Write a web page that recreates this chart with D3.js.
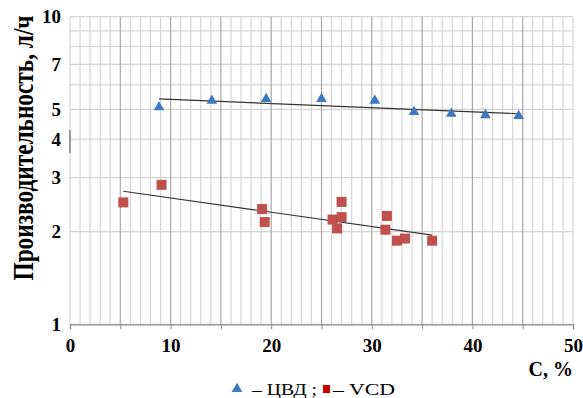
<!DOCTYPE html>
<html>
<head>
<meta charset="utf-8">
<script src="https://cdn.jsdelivr.net/npm/d3@7"></script>
<style>
  body { margin: 0; background: #fff; }
  text { font-family: "Liberation Serif", "Times New Roman", serif; }
</style>
</head>
<body>
<div class="chart"></div>
<script>
// ЦВД (triangles)
var cvdX = [8.85, 14.1, 19.5, 25.0, 30.3, 34.2, 37.9, 41.3, 44.6];
var cvdY = [5.08, 5.33, 5.40, 5.40, 5.33, 4.90, 4.84, 4.79, 4.76];
// VCD (squares)
var vcdX = [5.3, 9.1, 19.1, 19.35, 26.1, 26.55, 27.0, 27.0, 31.5, 31.35, 32.5, 33.3, 36.0];
var vcdY = [2.49, 2.84, 2.37, 2.15, 2.19, 2.05, 2.50, 2.23, 2.25, 2.03, 1.87, 1.90, 1.87];

var xTicks = [0, 10, 20, 30, 40, 50];
var yTicks = [1, 2, 3, 4, 5, 7, 10];

function init() {
  var w = 583;
  var h = 398;
  var left = 70, right = 573, top = 16.7, bottom = 324.3;

  var svg = d3.select(".chart").append("svg")
    .attr("width", w)
    .attr("height", h);

  var x = d3.scaleLinear().domain([0, 50]).range([left, right]);
  var y = d3.scaleLog().domain([1, 10]).range([bottom, top]);

  // horizontal grid, every integer
  svg.append("g").selectAll("line")
    .data(d3.range(1, 11))
    .enter().append("line")
    .attr("x1", left).attr("x2", right)
    .attr("y1", function(d) { return y(d); })
    .attr("y2", function(d) { return y(d); })
    .attr("stroke", "#d4d4d4")
    .attr("stroke-width", 1.2);

  // vertical grid, every unit, darker every 5
  svg.append("g").selectAll("line")
    .data(d3.range(0, 51))
    .enter().append("line")
    .attr("x1", function(d) { return x(d); })
    .attr("x2", function(d) { return x(d); })
    .attr("y1", top).attr("y2", bottom)
    .attr("stroke", function(d) { return d % 5 === 0 && d > 0 && d < 50 ? "#a8a8a8" : "#d4d4d4"; })
    .attr("stroke-width", 1.2);

  // small dark mark on y axis
  svg.append("line")
    .attr("x1", left).attr("x2", left)
    .attr("y1", 130).attr("y2", 153)
    .attr("stroke", "#999").attr("stroke-width", 2);

  // x axis
  var xAxis = d3.axisBottom(x)
    .tickValues(d3.range(0, 51, 5))
    .tickSize(5)
    .tickFormat(function(d) { return xTicks.indexOf(d) >= 0 ? d : ""; });
  var gx = svg.append("g")
    .attr("transform", "translate(0," + bottom + ")")
    .call(xAxis);
  gx.select(".domain").attr("stroke", "#8c8c8c").attr("stroke-width", 1.3);
  gx.selectAll(".tick line").attr("stroke", "#8c8c8c");
  gx.selectAll("text")
    .attr("font-size", "19px")
    .attr("font-weight", "bold")
    .attr("font-family", "Liberation Serif")
    .attr("fill", "#000")
    .attr("dy", "1.05em");

  // y axis labels
  svg.append("g").selectAll("text")
    .data(yTicks)
    .enter().append("text")
    .attr("x", 61)
    .attr("y", function(d) { return y(d); })
    .attr("dy", "0.35em")
    .attr("text-anchor", "end")
    .attr("font-size", "19px")
    .attr("font-weight", "bold")
    .text(function(d) { return d; });

  // exponential trend lines
  function trend(xs, ys) {
    var ly = ys.map(function(v) { return Math.log10(v); });
    var mx = d3.mean(xs), my = d3.mean(ly);
    var sxy = d3.sum(xs, function(v, i) { return (v - mx) * (ly[i] - my); });
    var sxx = d3.sum(xs, function(v) { return (v - mx) * (v - mx); });
    var b = sxy / sxx, a = my - b * mx;
    var x0 = d3.min(xs), x1 = d3.max(xs);
    return [[x0, Math.pow(10, a + b * x0)], [x1, Math.pow(10, a + b * x1)]];
  }

  var line = d3.line()
    .x(function(d) { return x(d[0]); })
    .y(function(d) { return y(d[1]); });

  [trend(cvdX, cvdY), trend(vcdX, vcdY)].forEach(function(t) {
    svg.append("path")
      .attr("d", line(t))
      .attr("fill", "none")
      .attr("stroke", "#333")
      .attr("stroke-width", 1.1);
  });

  // squares
  svg.append("g").selectAll("rect")
    .data(vcdX)
    .enter().append("rect")
    .attr("x", function(d) { return x(d) - 5; })
    .attr("y", function(d, i) { return y(vcdY[i]) - 5; })
    .attr("width", 10)
    .attr("height", 10)
    .attr("fill", "#c0504d");

  // triangles
  var tri = d3.symbol().type(d3.symbolTriangle).size(50);
  svg.append("g").selectAll("path")
    .data(cvdX)
    .enter().append("path")
    .attr("d", tri)
    .attr("transform", function(d, i) { return "translate(" + x(d) + "," + y(cvdY[i]) + ")"; })
    .attr("fill", "#3d78c0");

  // axis titles (glyphs are tall and narrow in the original)
  svg.append("text")
    .attr("transform", "translate(33,148) rotate(-90) scale(1,1.45)")
    .attr("text-anchor", "middle")
    .attr("font-size", "20px")
    .attr("font-weight", "bold")
    .attr("textLength", 265)
    .attr("lengthAdjust", "spacingAndGlyphs")
    .text("Производительность, л/ч");

  svg.append("text")
    .attr("x", right)
    .attr("y", 376)
    .attr("text-anchor", "end")
    .attr("font-size", "20px")
    .attr("font-weight", "bold")
    .text("C, %");

  // legend
  var lg = svg.append("g").attr("transform", "translate(0,389)");
  lg.append("path")
    .attr("d", tri)
    .attr("transform", "translate(237,0)")
    .attr("fill", "#3d78c0");
  lg.append("text")
    .attr("x", 252).attr("y", 6)
    .attr("font-size", "17px")
    .attr("textLength", 65)
    .attr("lengthAdjust", "spacingAndGlyphs")
    .text("– ЦВД ;");
  lg.append("rect")
    .attr("x", 323).attr("y", -4)
    .attr("width", 7).attr("height", 8)
    .attr("fill", "#cc0000");
  lg.append("text")
    .attr("x", 333).attr("y", 6)
    .attr("font-size", "17px")
    .attr("textLength", 62)
    .attr("lengthAdjust", "spacingAndGlyphs")
    .text("– VCD");
}

window.onload = init;
</script>
</body>
</html>
